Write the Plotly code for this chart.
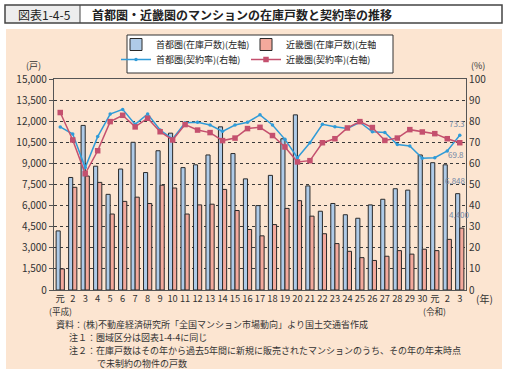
import plotly.graph_objects as go

# ---------------- data ----------------
year_labels = ["元"] + [str(i) for i in range(2, 31)] + ["元", "2", "3"]
shutoken_stock = [4200, 8000, 11700, 8800, 6800, 8600, 10500, 8350, 9900, 11150,
                  8700, 8900, 9600, 11600, 9700, 7900, 6000, 8150, 10750, 12450,
                  7400, 5600, 6150, 5350, 5100, 6050, 6450, 7200, 7100, 9600,
                  9050, 8900, 6848]
kinki_stock = [1500, 7300, 8100, 7650, 5400, 6300, 6600, 6150, 7450, 7250,
               5400, 6050, 6100, 7150, 5650, 4300, 3850, 4650, 5800, 6350,
               5250, 4000, 3300, 2750, 2300, 2100, 2400, 2800, 2550, 2900,
               2800, 3600, 4400]
shutoken_rate = [77.3, 73.9, 58.0, 72.7, 83.4, 85.6, 78.5, 83.4, 75.8, 71.6,
                 79.3, 79.5, 78.2, 75.2, 78.2, 79.5, 83.0, 78.2, 71.4, 62.7,
                 69.8, 78.5, 77.4, 76.6, 79.5, 75.0, 74.7, 68.9, 68.3, 62.4,
                 62.7, 65.9, 73.3]
kinki_rate = [84.1, 71.1, 55.1, 66.0, 79.8, 82.8, 77.3, 81.4, 75.0, 71.1,
              78.4, 75.8, 74.6, 70.8, 72.0, 76.5, 77.1, 73.2, 67.8, 60.7,
              61.3, 69.8, 71.7, 76.8, 79.8, 77.0, 70.9, 72.0, 76.0, 74.9,
              74.1, 71.7, 69.8]
left_ticks = list(range(0, 15001, 1500))
right_ticks = list(range(0, 101, 10))
notes = [
    "資料：(株)不動産経済研究所「全国マンション市場動向」より国土交通省作成",
    "注１：圏域区分は図表1-4-4に同じ",
    "注２：在庫戸数はその年から過去5年間に新規に販売されたマンションのうち、その年の年末時点",
    "で未制約の物件の戸数",
]

x = list(range(len(year_labels)))

FONT = "Noto Sans CJK JP"
PEACH = "#FCE5D1"
BLUE_BAR = "#AFCBE8"
RED_BAR = "#F3A99C"
BLUE_LINE = "#2F9BD8"
RED_LINE = "#C4506E"

# geometry of plot area (pixels)
W, H = 507, 376
L, R, T, B = 54, 466, 79, 290


def px(v):
    return (v - L) / (R - L)


def py(v):
    return (B - v) / (B - T)


fig = go.Figure()
fig.add_trace(go.Bar(x=x, y=shutoken_stock, name="首都圏(在庫戸数)(左軸)",
                     marker=dict(color=BLUE_BAR, line=dict(color="#2a2a2a", width=1)),
                     legend="legend"))
fig.add_trace(go.Bar(x=x, y=kinki_stock, name="近畿圏(在庫戸数)(左軸)",
                     marker=dict(color=RED_BAR, line=dict(color="#2a2a2a", width=1)),
                     legend="legend"))
fig.add_trace(go.Scatter(x=x, y=shutoken_rate, name="首都圏(契約率)(右軸)", yaxis="y2",
                         mode="lines+markers",
                         line=dict(color=BLUE_LINE, width=1.5),
                         marker=dict(symbol="circle", size=3.5, color=BLUE_LINE),
                         legend="legend2"))
fig.add_trace(go.Scatter(x=x, y=kinki_rate, name="近畿圏(契約率)(右軸)", yaxis="y2",
                         mode="lines+markers",
                         line=dict(color=RED_LINE, width=1.5),
                         marker=dict(symbol="square", size=5.5, color=RED_LINE),
                         legend="legend2"))

shapes = [
    # peach panel
    dict(type="rect", xref="paper", yref="paper", x0=px(6), x1=px(502), y0=py(369), y1=py(29),
         fillcolor=PEACH, line=dict(width=0), layer="below"),
    # title box
    dict(type="rect", xref="paper", yref="paper", x0=px(5), x1=px(80), y0=py(23), y1=py(5),
         fillcolor="#EDEDED", line=dict(width=0), layer="below"),
    dict(type="rect", xref="paper", yref="paper", x0=px(5), x1=px(502), y0=py(23), y1=py(5),
         fillcolor="rgba(0,0,0,0)", line=dict(color="#444", width=1.5)),
    dict(type="line", xref="paper", yref="paper", x0=px(80), x1=px(80), y0=py(23), y1=py(5),
         line=dict(color="#444", width=1)),
    # legend box
    dict(type="rect", xref="paper", yref="paper", x0=px(127), x1=px(393), y0=py(73), y1=py(35),
         fillcolor="white", line=dict(color="#333", width=1)),
]

annotations = [
    dict(text="図表1-4-5", x=px(16), y=py(14), xref="paper", yref="paper", xanchor="left",
         yanchor="middle", showarrow=False, font=dict(size=12, color="#222", family=FONT)),
    dict(text="<b>首都圏・近畿圏のマンションの在庫戸数と契約率の推移</b>", x=px(90), y=py(14),
         xref="paper", yref="paper", xanchor="left", yanchor="middle", showarrow=False,
         font=dict(size=12, color="#222", family=FONT)),
    dict(text="(戸)", x=px(33), y=py(65), xref="paper", yref="paper", xanchor="center",
         yanchor="middle", showarrow=False, font=dict(size=9, color="#333", family=FONT)),
    dict(text="(%)", x=px(478), y=py(65), xref="paper", yref="paper", xanchor="center",
         yanchor="middle", showarrow=False, font=dict(size=9, color="#333", family=FONT)),
    dict(text="(年)", x=px(484), y=py(298), xref="paper", yref="paper", xanchor="center",
         yanchor="middle", showarrow=False, font=dict(size=10, color="#333", family=FONT)),
    dict(text="(平成)", x=0, y=py(311), xref="x", yref="paper", xanchor="center",
         yanchor="middle", showarrow=False, font=dict(size=8.6, color="#333", family=FONT)),
    dict(text="(令和)", x=30, y=py(311), xref="x", yref="paper", xanchor="center",
         yanchor="middle", showarrow=False, font=dict(size=8.6, color="#333", family=FONT)),
    # data labels for latest year
    dict(text=f"{shutoken_rate[-1]:.1f}", x=x[-1], y=shutoken_rate[-1], xref="x", yref="y2",
         xanchor="center", yanchor="bottom", yshift=4, xshift=-3, showarrow=False,
         font=dict(size=8, color="#6f86a6", family=FONT)),
    dict(text=f"{kinki_rate[-1]:.1f}", x=x[-1], y=kinki_rate[-1], xref="x", yref="y2",
         xanchor="center", yanchor="top", yshift=-4, xshift=-4, showarrow=False,
         font=dict(size=8, color="#6f86a6", family=FONT)),
    dict(text=f"{shutoken_stock[-1]:,}", x=x[-1], y=shutoken_stock[-1], xref="x", yref="y",
         xanchor="right", yanchor="middle", yshift=13, xshift=8, showarrow=False,
         font=dict(size=8, color="#6f86a6", family=FONT)),
    dict(text=f"{kinki_stock[-1]:,}", x=x[-1], y=kinki_stock[-1], xref="x", yref="y",
         xanchor="center", yanchor="bottom", yshift=6, xshift=0, showarrow=False,
         font=dict(size=8, color="#6f86a6", family=FONT)),
]

note_pos = [(55, 324), (68, 337), (68, 350), (96, 363)]
for (nx, ny), nt in zip(note_pos, notes):
    annotations.append(dict(text=nt, x=px(nx), y=py(ny), xref="paper", yref="paper",
                            xanchor="left", yanchor="middle", showarrow=False, borderpad=0,
                            font=dict(size=9, color="#333", family=FONT)))

fig.update_layout(
    width=W, height=H, autosize=False,
    margin=dict(l=L, r=W - R, t=T, b=H - B, pad=0),
    paper_bgcolor="white", plot_bgcolor=PEACH,
    font=dict(family=FONT, size=10, color="#333"),
    barmode="group", bargap=0.34, bargroupgap=0.0,
    shapes=shapes, annotations=annotations,
    xaxis=dict(range=[-0.5, len(x) - 0.5], tickmode="array", tickvals=x, ticktext=year_labels,
               showgrid=False, showline=True, linecolor="#555", linewidth=1.2, mirror=True,
               ticks="", tickangle=0, tickfont=dict(size=9.3, color="#333"),
               automargin=False),
    yaxis=dict(range=[0, 15000], tickmode="array", tickvals=left_ticks,
               ticktext=[f"{v:,}" for v in left_ticks],
               showgrid=True, gridcolor="#3a3a3a", griddash="dot", gridwidth=1,
               showline=True, linecolor="#555", linewidth=1.2, ticks="outside", ticklen=4,
               tickcolor="#555", tickfont=dict(size=10, color="#333"), zeroline=False,
               automargin=False),
    yaxis2=dict(range=[0, 100], tickmode="array", tickvals=right_ticks, overlaying="y",
                side="right", showgrid=False, showline=True, linecolor="#555", linewidth=1.2,
                ticks="", tickfont=dict(size=10, color="#333"), zeroline=False,
                automargin=False),
    legend=dict(orientation="h", xref="container", yref="container",
                x=116 / W, y=1 - 30 / H, xanchor="left", yanchor="top",
                bgcolor="rgba(0,0,0,0)", font=dict(size=9, color="#222", family=FONT),
                itemwidth=30, entrywidth=85, traceorder="normal", tracegroupgap=0),
    legend2=dict(orientation="h", xref="container", yref="container",
                 x=116 / W, y=1 - 45 / H, xanchor="left", yanchor="top",
                 bgcolor="rgba(0,0,0,0)", font=dict(size=9, color="#222", family=FONT),
                 itemwidth=30, entrywidth=85, traceorder="normal", tracegroupgap=0),
)

fig.write_html("out.html", config={"displayModeBar": False},
               post_script="document.body.style.margin='0px';document.body.style.overflow='hidden';")
